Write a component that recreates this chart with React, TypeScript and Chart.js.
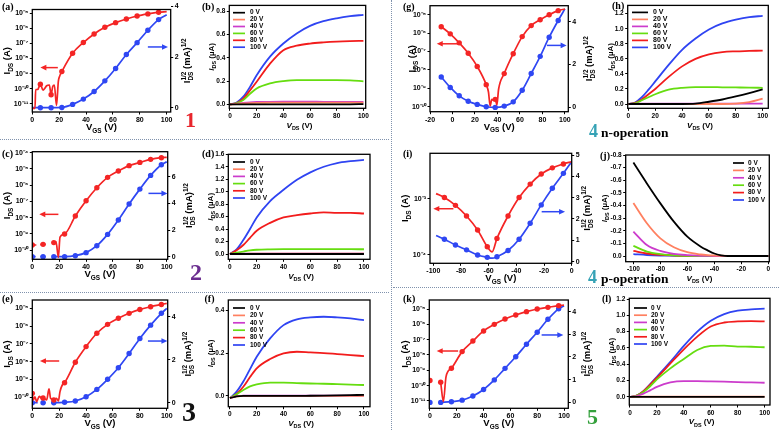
import React, { useEffect, useRef } from "react";
import { Chart, registerables } from "chart.js";

Chart.register(...registerables);

const SANS = '"Liberation Sans", Arial, Helvetica, sans-serif';
const SERIF = '"Liberation Serif", "Times New Roman", Times, serif';
const RED = "#f42525";
const BLUE = "#2f47f3";
const OUT_LABELS = ["0 V", "20 V", "40 V", "60 V", "80 V", "100 V"];
const OUT_COLORS = ["#000000", "#ff8060", "#cc3ccc", "#66dd10", "#f21c1c", "#2f44f2"];

/* ---------------- tick values ---------------- */
const X_TICKS_POS = [0, 20, 40, 60, 80, 100];
const X_TICKS_G = [-20, 0, 20, 40, 60, 80, 100];
const X_TICKS_NEG = [-100, -80, -60, -40, -20, 0];
const LOG_TICKS_A = [1e-11, 1e-10, 1e-9, 1e-8, 1e-7, 1e-6, 1e-5];
const LOG_TICKS_C = [1e-10, 1e-9, 1e-8, 1e-7, 1e-6, 1e-5, 1e-4];
const LOG_TICKS_E = [1e-10, 1e-9, 1e-8, 1e-7, 1e-6, 1e-5];
const LOG_TICKS_G = [1e-10, 1e-9, 1e-8, 1e-7, 1e-6, 1e-5];
const LOG_TICKS_I = [1e-4, 1e-3];
const LOG_TICKS_K = [1e-11, 1e-10, 1e-9, 1e-8, 1e-7, 1e-6, 1e-5];
const SQRT_TICKS_A = [0, 2, 4];
const SQRT_TICKS_C = [0, 2, 4, 6];
const SQRT_TICKS_E = [0, 2, 4];
const SQRT_TICKS_G = [0, 2, 4];
const SQRT_TICKS_I = [0, 1, 2, 3, 4, 5];
const SQRT_TICKS_K = [0, 1, 2, 3, 4];
const OUT_TICKS_B = [0, 0.2, 0.4, 0.6, 0.8];
const OUT_TICKS_D = [0, 0.2, 0.4, 0.6, 0.8, 1.0, 1.2, 1.4, 1.6];
const OUT_TICKS_F = [0, 0.2, 0.4];
const OUT_TICKS_H = [0, 0.2, 0.4, 0.6, 0.8, 1.0, 1.2];
const OUT_TICKS_J = [-0.8, -0.7, -0.6, -0.5, -0.4, -0.3, -0.2, -0.1, 0];
const OUT_TICKS_L = [0, 0.2, 0.4, 0.6, 0.8, 1.0, 1.2];

/* ---------------- (a) transfer, device 1 ---------------- */
// red: log10(I_DS / A) ; blue: I_DS^1/2 (mA^1/2)
const aRedV = [0, 2, 2.5, 4, 6, 8, 9.5, 10.7, 12.7, 14, 15.2, 16.4, 18, 19.4, 20.2, 22, 30, 38, 46, 54, 62, 70, 78, 86, 94, 100];
const aRedLogI = [-11.3, -11.3, -10.05, -10.05, -9.7, -10.1, -9.95, -9.8, -9.75, -10.4, -9.85, -9.75, -11.1, -9.5, -9.2, -8.86, -7.65, -6.94, -6.37, -5.93, -5.62, -5.38, -5.18, -5.04, -4.93, -4.89];
const aMarkV = [6, 14, 22, 30, 38, 46, 54, 62, 70, 78, 86, 94];
const aBlueV = [0, 6, 14, 22, 30, 38, 46, 54, 62, 70, 78, 86, 94, 100];
const aBlueSqrtI = [0, 0, 0, 0.01, 0.13, 0.34, 0.64, 1.06, 1.55, 2.1, 2.57, 3.06, 3.48, 3.67];

/* ---------------- (c) transfer, device 2 ---------------- */
const cRedV = [0, 3, 4.5, 6, 8, 10, 12, 15, 16, 17.6, 19.4, 20.6, 24, 32, 40, 48, 56, 64, 72, 80, 88, 96, 100];
const cRedLogI = [-9.69, -9.69, null, -9.66, -9.65, -9.65, null, -9.55, -9.54, -9.48, -10.45, -9.2, -9.01, -7.9, -6.96, -6.16, -5.52, -5.13, -4.8, -4.6, -4.41, -4.31, -4.29];
const cMarkV = [0, 8, 16, 24, 32, 40, 48, 56, 64, 72, 80, 88, 96];
const cBlueV = [0, 2.5, 4.5, 6, 8, 10, 12, 15, 16, 24, 32, 40, 48, 56, 64, 72, 80, 88, 96, 100];
const cBlueSqrtI = [0, 0, null, 0, 0, 0, null, 0, 0, 0, 0.07, 0.3, 0.82, 1.67, 2.75, 3.95, 5.07, 6.1, 6.9, 7.12];

/* ---------------- (e) transfer, device 3 ---------------- */
const eRedV = [0, 0.7, 2, 3.2, 5.2, 7, 8, 10.7, 12.4, 13.6, 16, 18, 19.4, 20.6, 22.3, 24, 32, 40, 48, 56, 64, 72, 80, 88, 96, 100];
const eRedLogI = [-9.78, -10.15, -9.98, -10.24, -9.95, -10.06, -10.04, -10.15, -9.53, -10.06, -10.15, -10.06, -10.2, -9.68, -9.31, -9.18, -8.03, -7.15, -6.4, -5.9, -5.56, -5.28, -5.06, -4.91, -4.78, -4.72];
const eMarkV = [0, 8, 16, 24, 32, 40, 48, 56, 64, 72, 80, 88, 96];
const eBlueV = [0, 4, 5.5, 8, 10, 11.5, 14, 16, 24, 32, 40, 48, 56, 64, 72, 80, 88, 96, 100];
const eBlueSqrtI = [0, 0, null, 0, 0, null, 0, 0, 0.02, 0.08, 0.28, 0.62, 1.09, 1.63, 2.29, 2.99, 3.61, 4.16, 4.39];

/* ---------------- (g) transfer, device 4 n ---------------- */
const gRedV = [-10, -2, 6, 14, 22, 30, 32, 33.5, 35, 36.5, 38, 39.5, 41, 46, 54, 62, 70, 78, 86, 94, 100];
const gRedLogI = [-5.65, -6.04, -6.53, -7.09, -7.81, -8.8, -9.2, -9.95, -9.6, -9.65, -9.6, -9.9, -9.05, -8.2, -7.12, -6.19, -5.59, -5.27, -5.0, -4.78, -4.69];
const gMarkV = [-10, -2, 6, 14, 22, 30, 38, 46, 54, 62, 70, 78, 86, 94];
const gBlueV = [-10, -2, 6, 14, 22, 30, 38, 46, 54, 62, 70, 78, 86, 94, 100];
const gBlueSqrtI = [1.42, 0.93, 0.54, 0.29, 0.14, 0.03, 0, 0.06, 0.26, 0.8, 1.58, 2.38, 3.27, 4.05, 4.59];

/* ---------------- (i) transfer, device 4 p ---------------- */
const iRedV = [-98, -92, -84, -76, -68, -61, -57.5, -54, -46, -38, -30, -22, -14, -6, 0];
const iRedLogI = [-2.91, -2.98, -3.12, -3.31, -3.56, -3.86, -3.95, -3.71, -3.31, -2.98, -2.74, -2.56, -2.45, -2.38, -2.34];
const iMarkV = [-92, -84, -76, -68, -61, -54, -46, -38, -30, -22, -14, -6];
const iBlueV = [-98, -92, -84, -76, -68, -61, -57.5, -54, -46, -38, -30, -22, -14, -6, 0];
const iBlueSqrtI = [1.22, 1.05, 0.78, 0.55, 0.31, 0.2, 0.16, 0.23, 0.52, 1.05, 1.8, 2.66, 3.44, 4.14, 4.69];

/* ---------------- (k) transfer, device 5 ---------------- */
const kRedV = [0, 4, 8, 10, 12, 16, 24, 32, 40, 48, 56, 64, 72, 80, 88, 96, 100];
const kRedLogI = [-9.67, null, -9.78, -11.04, -9.41, -8.87, -7.78, -7.09, -6.43, -6.0, -5.65, -5.39, -5.17, -5.0, -4.89, -4.78, -4.74];
const kMarkV = [0, 8, 16, 24, 32, 40, 48, 56, 64, 72, 80, 88, 96];
const kBlueV = [0, 4, 8, 16, 24, 32, 40, 48, 56, 64, 72, 80, 88, 96, 100];
const kBlueSqrtI = [0, null, 0, 0.03, 0.1, 0.28, 0.57, 0.99, 1.5, 2.01, 2.56, 3.09, 3.66, 4.12, 4.26];

/* ---------------- output curves (I_DS in µA) ---------------- */
const VDS = [0, 5, 10, 15, 20, 30, 40, 50, 60, 70, 80, 90, 100];
const jVds = [-100, -90, -80, -70, -60, -50, -45, -40, -35, -30, -20, -10, 0];

const b0 = [0, 0, 0, 0, 0, 0, 0, 0, 0, 0, 0, 0, 0.002];
const b20 = [0, 0.003, 0.008, 0.011, 0.013, 0.014, 0.015, 0.015, 0.015, 0.015, 0.015, 0.015, 0.015];
const b40 = [0, 0.005, 0.012, 0.017, 0.02, 0.022, 0.023, 0.023, 0.023, 0.022, 0.022, 0.022, 0.021];
const b60 = [0, 0.01, 0.037, 0.09, 0.137, 0.18, 0.2, 0.209, 0.209, 0.209, 0.209, 0.207, 0.198];
const b80 = [0, 0.012, 0.05, 0.12, 0.194, 0.35, 0.466, 0.505, 0.523, 0.533, 0.54, 0.544, 0.546];
const b100 = [0, 0.015, 0.066, 0.15, 0.25, 0.41, 0.523, 0.61, 0.675, 0.715, 0.74, 0.758, 0.77];

const d0 = [0, 0, 0, 0, 0, 0, 0, 0, 0, 0, 0, 0, 0];
const d20 = [0, 0.002, 0.003, 0.004, 0.004, 0.004, 0.004, 0.004, 0.004, 0.004, 0.004, 0.004, 0.004];
const d40 = [0, 0.003, 0.005, 0.006, 0.006, 0.006, 0.006, 0.006, 0.006, 0.006, 0.006, 0.006, 0.006];
const d60 = [0, 0.02, 0.04, 0.058, 0.068, 0.075, 0.078, 0.078, 0.077, 0.077, 0.077, 0.077, 0.076];
const d80 = [0, 0.06, 0.144, 0.26, 0.373, 0.5, 0.587, 0.624, 0.65, 0.667, 0.66, 0.66, 0.65];
const d100 = [0, 0.075, 0.224, 0.4, 0.587, 0.85, 1.03, 1.19, 1.31, 1.4, 1.46, 1.49, 1.51];

const f0 = [-0.01, -0.002, 0, 0, 0, 0, 0, 0, 0.001, 0.002, 0.003, 0.004, 0.005];
const f20 = [-0.01, -0.002, 0, 0, 0, 0, 0, 0, 0, 0, 0, 0, 0];
const f40 = [-0.01, -0.001, 0.001, 0.002, 0.002, 0.002, 0.002, 0.002, 0.002, 0.002, 0.002, 0.002, 0.002];
const f60 = [-0.01, 0.008, 0.028, 0.045, 0.054, 0.062, 0.062, 0.06, 0.058, 0.057, 0.055, 0.053, 0.051];
const f80 = [-0.01, 0.01, 0.043, 0.088, 0.129, 0.172, 0.198, 0.206, 0.203, 0.2, 0.195, 0.19, 0.186];
const f100 = [-0.01, 0.02, 0.067, 0.125, 0.183, 0.268, 0.33, 0.357, 0.366, 0.369, 0.366, 0.361, 0.353];

const h0 = [0, 0, 0, 0, 0, 0, 0, 0.005, 0.03, 0.06, 0.1, 0.145, 0.195];
const h20 = [0, 0, 0, 0, 0, 0, 0, 0, 0, 0, 0.005, 0.025, 0.07];
const h40 = [0, 0.003, 0.005, 0.005, 0.005, 0.005, 0.005, 0.005, 0.005, 0.005, 0.005, 0.005, 0.005];
const h60 = [0, 0.01, 0.05, 0.09, 0.13, 0.19, 0.215, 0.225, 0.225, 0.222, 0.22, 0.218, 0.215];
const h80 = [0, 0.015, 0.06, 0.13, 0.2, 0.36, 0.5, 0.6, 0.66, 0.69, 0.7, 0.705, 0.71];
const h100 = [0, 0.02, 0.09, 0.19, 0.3, 0.52, 0.72, 0.87, 0.99, 1.07, 1.12, 1.155, 1.17];

const j0 = [-0.74, -0.575, -0.417, -0.272, -0.153, -0.074, -0.045, -0.02, -0.006, 0, 0, 0, 0];
const j20 = [-0.42, -0.26, -0.14, -0.069, -0.03, -0.012, -0.007, -0.004, -0.002, -0.001, 0, 0, 0];
const j40 = [-0.193, -0.087, -0.04, -0.017, -0.007, -0.002, -0.001, 0, 0, 0, 0, 0, 0];
const j60 = [-0.08, -0.035, -0.015, -0.005, -0.001, 0, 0, 0, 0, 0, 0, 0, 0];
const j80 = [-0.04, -0.02, -0.01, -0.005, -0.001, 0, 0, 0, 0, 0, 0, 0, 0];
const j100 = [-0.015, -0.008, -0.004, -0.002, 0, 0, 0, 0, 0, 0, 0, 0, 0];

const l0 = [0, 0, 0, 0, 0, 0, 0, 0, 0, 0, 0, 0, 0];
const l20 = [0, 0.001, 0.002, 0.002, 0.002, 0.002, 0.002, 0.002, 0.002, 0.002, 0.002, 0.002, 0.002];
const l40 = [0, 0.01, 0.04, 0.08, 0.123, 0.177, 0.193, 0.193, 0.19, 0.186, 0.18, 0.177, 0.173];
const l60 = [0, 0.015, 0.06, 0.13, 0.214, 0.35, 0.465, 0.576, 0.625, 0.63, 0.617, 0.615, 0.609];
const l80 = [0, 0.015, 0.07, 0.15, 0.235, 0.41, 0.584, 0.74, 0.864, 0.913, 0.926, 0.93, 0.926];
const l100 = [0, 0.015, 0.07, 0.155, 0.247, 0.43, 0.625, 0.8, 0.934, 1.016, 1.058, 1.074, 1.082];

/* ---------------- helpers ---------------- */
type Run = { t: string; sub?: boolean; sup?: boolean; it?: boolean; stack?: boolean };
const T_X: Run[] = [{ t: "V" }, { t: "GS", sub: true }, { t: " (V)" }];
const T_Y: Run[] = [{ t: "I" }, { t: "DS", sub: true }, { t: " (A)" }];
const T_Y2: Run[] = [{ t: "I" }, { t: "DS", sub: true }, { t: "1/2", sup: true, stack: true }, { t: " (mA)" }, { t: "1/2", sup: true }];
const O_X: Run[] = [{ t: "V", it: true }, { t: "DS", sub: true }, { t: " (V)" }];
const O_Y: Run[] = [{ t: "I", it: true }, { t: "DS", sub: true }, { t: " (\u00B5A)" }];

const SUPS: Record<string, string> = {
  "-": "\u207B", "0": "\u2070", "1": "\u00B9", "2": "\u00B2", "3": "\u00B3",
  "4": "\u2074", "5": "\u2075", "6": "\u2076", "7": "\u2077", "8": "\u2078", "9": "\u2079",
};
const fmtLog = (v: number) => "10" + String(Math.round(Math.log10(v))).split("").map((c) => SUPS[c]).join("");
const fmtInt = (v: number) => String(Math.round(v));
const fmt1 = (v: number) => {
  const s = Number(v).toFixed(1);
  return s === "-0.0" ? "0.0" : s;
};

function drawRich(ctx: CanvasRenderingContext2D, runs: Run[], cx: number, cy: number, size: number, rotate: boolean) {
  const small = size * 0.68;
  const fontOf = (r: Run) => `${r.it ? "italic " : ""}bold ${r.sub || r.sup ? small : size}px ${SANS}`;
  const starts: number[] = [];
  let w = 0;
  let prev = 0;
  runs.forEach((r) => {
    ctx.font = fontOf(r);
    const mw = ctx.measureText(r.t).width;
    const s = r.stack ? prev : w;
    starts.push(s);
    w = Math.max(w, s + mw);
    prev = s;
  });
  ctx.save();
  ctx.translate(cx, cy);
  if (rotate) ctx.rotate(-Math.PI / 2);
  ctx.fillStyle = "#000";
  ctx.textAlign = "left";
  ctx.textBaseline = "alphabetic";
  const base = size * 0.36;
  runs.forEach((r, i) => {
    ctx.font = fontOf(r);
    const dy = r.sub ? size * 0.28 : r.sup ? -size * 0.45 : 0;
    ctx.fillText(r.t, -w / 2 + starts[i], base + dy);
  });
  ctx.restore();
}

function drawArrow(ctx: CanvasRenderingContext2D, x1: number, y: number, x2: number, color: string) {
  const dir = Math.sign(x2 - x1);
  ctx.strokeStyle = color;
  ctx.fillStyle = color;
  ctx.lineWidth = 1.5;
  ctx.beginPath();
  ctx.moveTo(x1, y);
  ctx.lineTo(x2 - dir * 4, y);
  ctx.stroke();
  ctx.beginPath();
  ctx.moveTo(x2, y);
  ctx.lineTo(x2 - dir * 6, y - 2.8);
  ctx.lineTo(x2 - dir * 6, y + 2.8);
  ctx.closePath();
  ctx.fill();
}

function lineSet(label: string, xs: number[], ys: (number | null)[], color: string, axis: string, marks: number[], toVal: (v: number) => number) {
  return {
    label,
    data: xs.map((x, i) => ({ x, y: ys[i] == null ? null : toVal(ys[i] as number) })),
    xAxisID: "x",
    yAxisID: axis,
    borderColor: color,
    backgroundColor: color,
    borderWidth: 1.7,
    pointRadius: (c: any) => (c.raw && marks.includes(c.raw.x) ? 2.7 : 0),
    pointBackgroundColor: color,
    pointBorderColor: color,
    pointBorderWidth: 0,
    cubicInterpolationMode: "monotone",
    spanGaps: false,
    fill: false,
  };
}

const pow10 = (e: number) => Math.pow(10, e);
const ident = (v: number) => v;

function transferSets(rv: number[], rl: (number | null)[], bv: number[], bs: (number | null)[], marks: number[]) {
  return [
    lineSet("I_DS", rv, rl, RED, "y", marks, pow10),
    lineSet("I_DS^1/2", bv, bs, BLUE, "y2", marks, ident),
  ];
}

function outputSets(xs: number[], series: number[][]) {
  return series.map((vals, i) => ({
    label: OUT_LABELS[i],
    data: xs.map((x, k) => ({ x, y: vals[k] })),
    xAxisID: "x",
    yAxisID: "y",
    borderColor: OUT_COLORS[i],
    backgroundColor: OUT_COLORS[i],
    borderWidth: 1.8,
    pointRadius: 0,
    cubicInterpolationMode: "monotone",
    fill: false,
  }));
}

/* ---------------- panel layout (positions only) ---------------- */
const PANELS: any[] = [
  {
    id: "a", kind: "t", box: [0, 0, 200, 138], plot: [32.3, 9.5, 170.7, 112],
    x: [0, 103, X_TICKS_POS], y: [pow10(-11.54), pow10(-4.75), LOG_TICKS_A], y2: [-0.17, 3.88, SQRT_TICKS_A],
    sets: transferSets(aRedV, aRedLogI, aBlueV, aBlueSqrtI, aMarkV),
    arrows: [{ from: 19, to: 6, at: pow10(-8.6), axis: "y", color: RED }, { from: 86, to: 101, at: 2.4, axis: "y2", color: BLUE }],
    yDx: -25.6, y2Dx: 16,
  },
  {
    id: "c", kind: "t", box: [0, 140, 200, 151], plot: [32.3, 151.7, 167.7, 259.3],
    x: [0, 100.7, X_TICKS_POS], y: [pow10(-10.57), pow10(-3.94), LOG_TICKS_C], y2: [-0.2, 7.88, SQRT_TICKS_C],
    sets: transferSets(cRedV, cRedLogI, cBlueV, cBlueSqrtI, cMarkV),
    arrows: [{ from: 19.4, to: 5.2, at: pow10(-7.8), axis: "y", color: RED }, { from: 86.4, to: 100.5, at: 4.75, axis: "y2", color: BLUE }],
    yDx: -25.6, y2Dx: 21,
  },
  {
    id: "e", kind: "t", box: [0, 293, 200, 137], plot: [32.3, 300, 167.7, 408.3],
    x: [0, 100.7, X_TICKS_POS], y: [pow10(-10.62), pow10(-4.53), LOG_TICKS_E], y2: [-0.26, 4.78, SQRT_TICKS_E],
    sets: transferSets(eRedV, eRedLogI, eBlueV, eBlueSqrtI, eMarkV),
    arrows: [{ from: 20, to: 5.7, at: pow10(-7.96), axis: "y", color: RED }, { from: 86, to: 100.5, at: 2.87, axis: "y2", color: BLUE }],
    yDx: -25.6, y2Dx: 20,
  },
  {
    id: "g", kind: "t", box: [392, 0, 208, 140], plot: [430, 5, 568.3, 111.7],
    x: [-20, 103, X_TICKS_G], y: [pow10(-10.27), pow10(-4.51), LOG_TICKS_G], y2: [-0.2, 4.74, SQRT_TICKS_G],
    sets: transferSets(gRedV, gRedLogI, gBlueV, gBlueSqrtI, gMarkV),
    arrows: [{ from: 5, to: -14, at: pow10(-6.58), axis: "y", color: RED }, { from: 84, to: 101.5, at: 2.89, axis: "y2", color: BLUE }],
    yDx: -18, y2Dx: 20.5,
  },
  {
    id: "i", kind: "t", box: [392, 140, 208, 147], plot: [430, 153.3, 571.7, 263.3],
    x: [-102.4, 0, X_TICKS_NEG], y: [pow10(-4.13), pow10(-2.19), LOG_TICKS_I], y2: [-0.08, 5.08, SQRT_TICKS_I],
    sets: transferSets(iRedV, iRedLogI, iBlueV, iBlueSqrtI, iMarkV),
    arrows: [{ from: -85.5, to: -100, at: pow10(-3.18), axis: "y", color: RED }, { from: -21.7, to: -4.8, at: 2.34, axis: "y2", color: BLUE }],
    yDx: -25, y2Dx: 15,
  },
  {
    id: "k", kind: "t", box: [392, 287, 208, 143], plot: [429.3, 300, 568.3, 408.3],
    x: [-0.5, 103.2, X_TICKS_POS], y: [pow10(-11.48), pow10(-4.41), LOG_TICKS_K], y2: [-0.26, 4.51, SQRT_TICKS_K],
    sets: transferSets(kRedV, kRedLogI, kBlueV, kBlueSqrtI, kMarkV),
    arrows: [{ from: 21, to: 5, at: pow10(-7.74), axis: "y", color: RED }, { from: 83.3, to: 99.5, at: 2.97, axis: "y2", color: BLUE }],
    yDx: -24.3, y2Dx: 18.7,
  },
  {
    id: "b", kind: "o", box: [190, 0, 198, 138], plot: [229.3, 5, 365.7, 108.3],
    x: [-0.5, 101.7, X_TICKS_POS], y: [-0.034, 0.851, OUT_TICKS_B],
    sets: outputSets(VDS, [b0, b20, b40, b60, b80, b100]),
    legend: { x: 3.7, y: 7.3, row: 6.9, len: 12, gap: 5, size: 6.5, right: false }, yDx: -18,
  },
  {
    id: "d", kind: "o", box: [190, 140, 198, 151], plot: [228.3, 154.3, 370, 259.3],
    x: [-1.2, 104.5, X_TICKS_POS], y: [-0.085, 1.6, OUT_TICKS_D],
    sets: outputSets(VDS, [d0, d20, d40, d60, d80, d100]),
    legend: { x: 4.7, y: 7.7, row: 7.2, len: 12, gap: 5, size: 6.5, right: false }, yDx: -18,
  },
  {
    id: "f", kind: "o", box: [190, 293, 198, 137], plot: [228.3, 300, 370, 406.7],
    x: [-1.2, 104.5, X_TICKS_POS], y: [-0.05, 0.447, OUT_TICKS_F],
    sets: outputSets(VDS, [f0, f20, f40, f60, f80, f100]),
    legend: { x: 4.7, y: 8, row: 7.4, len: 12, gap: 5, size: 6.5, right: false }, yDx: -18,
  },
  {
    id: "h", kind: "o", box: [585, 0, 194, 140], plot: [627.7, 5, 768.3, 108.3],
    x: [-0.5, 104.2, X_TICKS_POS], y: [-0.057, 1.31, OUT_TICKS_H],
    sets: outputSets(VDS, [h0, h20, h40, h60, h80, h100]),
    legend: { x: 4.3, y: 7, row: 7, len: 16, gap: 5, size: 7, right: false }, yDx: -18,
  },
  {
    id: "j", kind: "o", box: [585, 140, 194, 147], plot: [625.7, 155, 769.3, 261.7],
    x: [-105.7, 0.74, X_TICKS_NEG], y: [-0.8, 0.045, OUT_TICKS_J], reverse: true,
    sets: outputSets(jVds, [j0, j20, j40, j60, j80, j100]),
    legend: { x: -36.3, y: 8, row: 7.4, len: 11, gap: 4, size: 6.5, right: true }, yDx: -22,
  },
  {
    id: "l", kind: "o", box: [585, 287, 194, 143], plot: [629.3, 298.3, 770, 405],
    x: [-0.5, 104, X_TICKS_POS], y: [-0.1, 1.21, OUT_TICKS_L],
    sets: outputSets(VDS, [l0, l20, l40, l60, l80, l100]),
    legend: { x: 4.7, y: 9.7, row: 7.2, len: 13, gap: 4, size: 6.5, right: false }, yDx: -18,
  },
];

function makeAxis(position: string, type: string, min: number, max: number, ticks: number[], fmt: (v: number) => string, size: number, fit: number, reverse = false) {
  return {
    type,
    position,
    min,
    max,
    reverse,
    afterBuildTicks: (s: any) => {
      s.ticks = ticks.map((v) => ({ value: v }));
    },
    afterFit: (s: any) => {
      if (position === "bottom") s.height = fit;
      else s.width = fit;
    },
    ticks: {
      autoSkip: false,
      maxRotation: 0,
      minRotation: 0,
      padding: 1.5,
      color: "#000",
      font: { family: SANS, size, weight: "bold" },
      callback: (v: number) => fmt(v),
    },
    grid: { display: true, drawOnChartArea: false, drawTicks: true, tickLength: 2.5, tickWidth: 1, color: "#000" },
    border: { display: false },
    title: { display: false },
  };
}

function buildConfig(spec: any) {
  const [bx, by, bw, bh] = spec.box;
  const [x0, y0, x1, y1] = spec.plot;
  const leftW = x0 - bx;
  const rightW = bx + bw - x1;
  const botH = by + bh - y1;
  const isT = spec.kind === "t";
  const tickSize = isT ? 7 : 6.5;
  const scales: any = {
    x: makeAxis("bottom", "linear", spec.x[0], spec.x[1], spec.x[2], fmtInt, tickSize, botH),
    y: makeAxis("left", isT ? "logarithmic" : "linear", spec.y[0], spec.y[1], spec.y[2], isT ? fmtLog : fmt1, tickSize, leftW, !!spec.reverse),
  };
  if (isT) scales.y2 = makeAxis("right", "linear", spec.y2[0], spec.y2[1], spec.y2[2], fmtInt, tickSize, rightW);

  const decor = {
    id: "decor_" + spec.id,
    afterDraw(chart: any) {
      const ctx: CanvasRenderingContext2D = chart.ctx;
      const ca = chart.chartArea;
      ctx.save();
      ctx.strokeStyle = "#000";
      ctx.lineWidth = 1.3;
      ctx.strokeRect(ca.left, ca.top, ca.right - ca.left, ca.bottom - ca.top);
      const cxm = (ca.left + ca.right) / 2;
      const cym = (ca.top + ca.bottom) / 2;
      if (isT) {
        drawRich(ctx, T_X, cxm, ca.bottom + 14.5, 9.5, false);
        drawRich(ctx, T_Y, ca.left + spec.yDx, cym, 9.5, true);
        drawRich(ctx, T_Y2, ca.right + spec.y2Dx, cym, 9.5, true);
        spec.arrows.forEach((a: any) => {
          const px1 = chart.scales.x.getPixelForValue(a.from);
          const px2 = chart.scales.x.getPixelForValue(a.to);
          const py = chart.scales[a.axis].getPixelForValue(a.at);
          drawArrow(ctx, px1, py, px2, a.color);
        });
      } else {
        drawRich(ctx, O_X, cxm + 2, ca.bottom + 16.5, 8, false);
        drawRich(ctx, O_Y, ca.left + spec.yDx, cym, 8, true);
        const lg = spec.legend;
        const baseX = lg.right ? ca.right + lg.x : ca.left + lg.x;
        chart.data.datasets.forEach((ds: any, i: number) => {
          const yy = ca.top + lg.y + i * lg.row;
          ctx.strokeStyle = ds.borderColor;
          ctx.lineWidth = 1.7;
          ctx.beginPath();
          ctx.moveTo(baseX, yy);
          ctx.lineTo(baseX + lg.len, yy);
          ctx.stroke();
          ctx.fillStyle = "#000";
          ctx.font = `bold ${lg.size}px ${SANS}`;
          ctx.textBaseline = "middle";
          ctx.textAlign = "left";
          ctx.fillText(ds.label, baseX + lg.len + lg.gap, yy);
        });
      }
      ctx.restore();
    },
  };

  return {
    type: "line",
    data: { datasets: spec.sets },
    options: {
      animation: false,
      responsive: false,
      maintainAspectRatio: false,
      events: [],
      layout: {
        autoPadding: false,
        padding: { left: 0, top: y0 - by, right: isT ? 0 : rightW, bottom: 0 },
      },
      scales,
      plugins: { legend: { display: false }, tooltip: { enabled: false } },
    },
    plugins: [decor],
  };
}

function ChartPanel({ spec }: { spec: any }) {
  const ref = useRef<HTMLCanvasElement | null>(null);
  useEffect(() => {
    if (!ref.current) return;
    const chart = new Chart(ref.current, buildConfig(spec) as any);
    return () => chart.destroy();
  }, [spec]);
  const [bx, by, bw, bh] = spec.box;
  return (
    <canvas
      ref={ref}
      width={bw}
      height={bh}
      style={{ position: "absolute", left: bx, top: by, width: bw, height: bh }}
    />
  );
}

const PANEL_LABELS = [
  { t: "(a)", x: 2, y: 2.2 },
  { t: "(b)", x: 202, y: 2.2 },
  { t: "(c)", x: 2, y: 149 },
  { t: "(d)", x: 202, y: 149 },
  { t: "(e)", x: 2, y: 294 },
  { t: "(f)", x: 204.5, y: 294 },
  { t: "(g)", x: 403, y: 2.2 },
  { t: "(h)", x: 612, y: 1.2 },
  { t: "(i)", x: 403, y: 149 },
  { t: "(j)", x: 600, y: 151 },
  { t: "(k)", x: 403, y: 294 },
  { t: "(l)", x: 602, y: 294 },
];

const BIG_NUMBERS = [
  { t: "1", x: 185, y: 109, size: 22, color: "#e8262d" },
  { t: "2", x: 190, y: 259.5, size: 24, color: "#6a2d8f" },
  { t: "3", x: 182, y: 398, size: 28, color: "#111111" },
  { t: "5", x: 587, y: 406, size: 22, color: "#34a03c" },
  { t: "4", x: 589, y: 122, size: 18, color: "#35a2b5" },
  { t: "4", x: 588, y: 268, size: 18, color: "#35a2b5" },
];

const CAPTIONS = [
  { t: "n-operation", x: 601, y: 125.7 },
  { t: "p-operation", x: 601, y: 271.7 },
];

export default function App() {
  useEffect(() => {
    document.body.style.margin = "0";
  }, []);
  const dot = "1px dotted #8092ad";
  return (
    <div style={{ position: "absolute", left: 0, top: 0, width: 779, height: 430, background: "#ffffff", overflow: "hidden" }}>
      <div style={{ position: "absolute", left: 0, top: 139, width: 389, borderTop: dot }} />
      <div style={{ position: "absolute", left: 0, top: 292, width: 389, borderTop: dot }} />
      <div style={{ position: "absolute", left: 393, top: 287, width: 386, borderTop: dot }} />
      <div style={{ position: "absolute", left: 391, top: 0, height: 430, borderLeft: dot }} />
      {PANELS.map((p) => (
        <ChartPanel key={p.id} spec={p} />
      ))}
      {PANEL_LABELS.map((l) => (
        <div key={l.t} style={{ position: "absolute", left: l.x, top: l.y, font: `bold 10px ${SERIF}`, lineHeight: "10px", whiteSpace: "nowrap", color: "#000" }}>
          {l.t}
        </div>
      ))}
      {BIG_NUMBERS.map((n, i) => (
        <div key={"n" + i} style={{ position: "absolute", left: n.x, top: n.y, font: `bold ${n.size}px ${SERIF}`, lineHeight: `${n.size}px`, color: n.color, whiteSpace: "nowrap" }}>
          {n.t}
        </div>
      ))}
      {CAPTIONS.map((c) => (
        <div key={c.t} style={{ position: "absolute", left: c.x, top: c.y, font: `bold 13.5px ${SERIF}`, lineHeight: "13.5px", color: "#000", whiteSpace: "nowrap" }}>
          {c.t}
        </div>
      ))}
    </div>
  );
}
